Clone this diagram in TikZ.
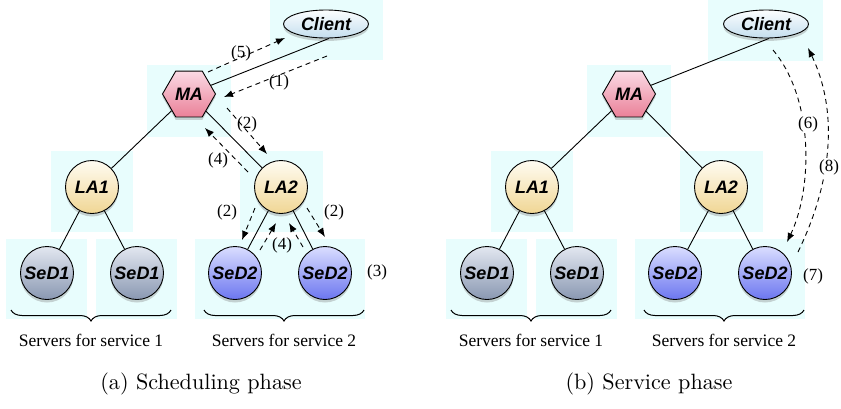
\documentclass[tikz,border=0pt]{standalone}
\usepackage{fontspec}
\newfontfamily\timesf{Liberation Serif}
\newfontfamily\helvf{Liberation Sans}
\usetikzlibrary{shapes.geometric,shadows,arrows.meta,decorations.pathreplacing}
\definecolor{bgc}{RGB}{232,253,253}
\definecolor{hextop}{RGB}{250,218,228}
\definecolor{hexbot}{RGB}{234,128,152}
\definecolor{latop}{RGB}{255,252,242}
\definecolor{labot}{RGB}{240,214,148}
\definecolor{sdatop}{RGB}{226,231,240}
\definecolor{sdabot}{RGB}{138,152,178}
\definecolor{sdbtop}{RGB}{218,222,255}
\definecolor{sdbbot}{RGB}{108,118,240}
\definecolor{cltop}{RGB}{252,254,255}
\definecolor{clbot}{RGB}{196,222,238}
\tikzset{
  nd/.style={draw=black, line width=0.9pt, inner sep=0pt,
    font=\helvf\bfseries\itshape\fontsize{18}{20}\selectfont,
    drop shadow={opacity=0.35, shadow xshift=0pt, shadow yshift=-3pt}},
  hexn/.style={nd, regular polygon, regular polygon sides=6, minimum size=53pt,
    top color=hextop, bottom color=hexbot},
  lan/.style={nd, circle, minimum size=53pt, top color=latop, bottom color=labot},
  sda/.style={nd, circle, minimum size=53pt, top color=sdatop, bottom color=sdabot},
  sdb/.style={nd, circle, minimum size=53pt, top color=sdbtop, bottom color=sdbbot},
  cln/.style={nd, ellipse, minimum width=85pt, minimum height=28pt, top color=cltop, bottom color=clbot},
  bgbox/.style={fill=bgc, draw=none},
  link/.style={line width=0.9pt},
  msg/.style={line width=0.9pt, dash pattern=on 5pt off 4pt, -{Latex[length=9pt,width=7pt]}},
  lbl/.style={font=\timesf\fontsize{17}{19}\selectfont, inner sep=1pt},
  grp/.style={font=\timesf\fontsize{17.5}{20}\selectfont},
  captxt/.style={font=\fontsize{10}{12}\selectfont, scale=2.215},
  brc/.style={decorate, decoration={brace, mirror, amplitude=11pt}, line width=1pt}
}
\begin{document}
\begin{tikzpicture}[x=1pt,y=-1pt]
\useasboundingbox (0,0) rectangle (841,408);
% ---------- panel (a) ----------
\fill[bgc] (270,0) rectangle (383,60);
\fill[bgc] (147,65) rectangle (231,137);
\fill[bgc] (51,151) rectangle (133,232);
\fill[bgc] (240,151) rectangle (323,232);
\fill[bgc] (6,239) rectangle (87,319);
\fill[bgc] (96,239) rectangle (177,319);
\fill[bgc] (195,239) rectangle (365,319);

\node[cln] (acl) at (326,24) {Client};
\node[hexn] (ama) at (189,94) {MA};
\node[lan] (ala1) at (92,187) {LA1};
\node[lan] (ala2) at (281,187) {LA2};
\node[sda] (as11) at (47,273) {SeD1};
\node[sda] (as12) at (137,273) {SeD1};
\node[sdb] (as21) at (235,273) {SeD2};
\node[sdb] (as22) at (325,273) {SeD2};

\draw[link] (ama) -- (acl.-78);
\draw[link] (ama) -- (ala1);
\draw[link] (ama) -- (ala2);
\draw[link] (ala1) -- (as11);
\draw[link] (ala1) -- (as12);
\draw[link] (ala2) -- (as21);
\draw[link] (ala2) -- (as22);

\coordinate (a5s) at (208,72);  \coordinate (a5e) at (285,38);
\coordinate (a1s) at (327,56);  \coordinate (a1e) at (224,97);
\coordinate (a2s) at (227,108); \coordinate (a2e) at (267,154);
\coordinate (a4s) at (248,172); \coordinate (a4e) at (205,128);
\coordinate (b2s) at (255,208); \coordinate (b2e) at (242,240);
\coordinate (b4s) at (260,250); \coordinate (b4e) at (276,223);
\coordinate (c4s) at (303,247); \coordinate (c4e) at (289,223);
\coordinate (c2s) at (307,208); \coordinate (c2e) at (325,237);
\draw[msg] (a5s) -- (a5e);
\draw[msg] (a1s) -- (a1e);
\draw[msg] (a2s) -- (a2e);
\draw[msg] (a4s) -- (a4e);
\draw[msg] (b2s) -- (b2e);
\draw[msg] (b4s) -- (b4e);
\draw[msg] (c4s) -- (c4e);
\draw[msg] (c2s) -- (c2e);
\node[lbl] (l5) at (241,53) {(5)};
\node[lbl] (l1) at (279,82) {(1)};
\node[lbl] (l2) at (247,124) {(2)};
\node[lbl] (l4) at (218,160) {(4)};
\node[lbl] (l2b) at (227,212) {(2)};
\node[lbl] (l4b) at (282,245) {(4)};
\node[lbl] (l2c) at (334,212) {(2)};
\node[lbl] (l3) at (377,272) {(3)};

\coordinate (abr1s) at (11,310); \coordinate (abr1e) at (171,310);
\coordinate (abr2s) at (204,310); \coordinate (abr2e) at (364,310);
\draw[brc] (abr1s) -- (abr1e);
\draw[brc] (abr2s) -- (abr2e);
\node[grp] (ag1) at (91,340) {Servers for service 1};
\node[grp] (ag2) at (284,340) {Servers for service 2};
\node[captxt] (capa) at (201,384) {(a) Scheduling phase};

% ---------- panel (b) ----------
\begin{scope}[xshift=440pt]
\fill[bgc] (268,0) rectangle (383,61);
\fill[bgc] (147,65) rectangle (231,137);
\fill[bgc] (51,151) rectangle (133,232);
\fill[bgc] (240,151) rectangle (323,232);
\fill[bgc] (6,239) rectangle (87,319);
\fill[bgc] (96,239) rectangle (177,319);
\fill[bgc] (195,239) rectangle (365,319);

\node[cln] (bcl) at (326,24) {Client};
\node[hexn] (bma) at (189,94) {MA};
\node[lan] (bla1) at (92,187) {LA1};
\node[lan] (bla2) at (281,187) {LA2};
\node[sda] (bs11) at (47,273) {SeD1};
\node[sda] (bs12) at (137,273) {SeD1};
\node[sdb] (bs21) at (235,273) {SeD2};
\node[sdb] (bs22) at (325,273) {SeD2};

\draw[link] (bma) -- (bcl.-78);
\draw[link] (bma) -- (bla1);
\draw[link] (bma) -- (bla2);
\draw[link] (bla1) -- (bs11);
\draw[link] (bla1) -- (bs12);
\draw[link] (bla2) -- (bs21);
\draw[link] (bla2) -- (bs22);

\coordinate (b6s) at (333,50);  \coordinate (b6e) at (347,242);
\coordinate (b8s) at (358,252); \coordinate (b8e) at (368,48);
\draw[msg] (b6s) .. controls (375,100) and (372,190) .. (b6e);
\draw[msg] (b8s) .. controls (393,180) and (398,110) .. (b8e);
\node[lbl, fill=white] (l6) at (368,124) {(6)};
\node[lbl, fill=white] (l8) at (389,167) {(8)};
\node[lbl] (l7) at (373,276) {(7)};

\coordinate (bbr1s) at (11,310); \coordinate (bbr1e) at (171,310);
\coordinate (bbr2s) at (204,310); \coordinate (bbr2e) at (364,310);
\draw[brc] (bbr1s) -- (bbr1e);
\draw[brc] (bbr2s) -- (bbr2e);
\node[grp] (bg1) at (91,340) {Servers for service 1};
\node[grp] (bg2) at (284,340) {Servers for service 2};
\node[captxt] (capb) at (209,384) {(b) Service phase};
\end{scope}
\end{tikzpicture}
\end{document}
